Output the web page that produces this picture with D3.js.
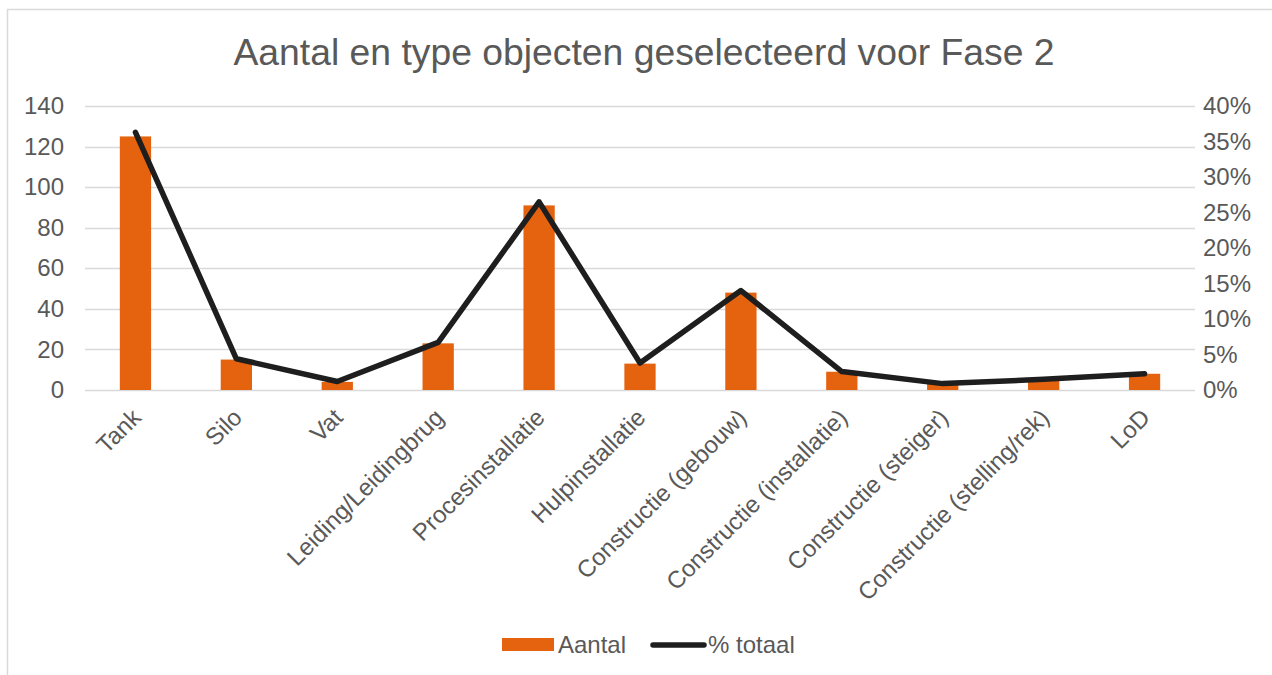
<!DOCTYPE html>
<html>
<head>
<meta charset="utf-8">
<script src="https://cdn.jsdelivr.net/npm/d3@7"></script>
<style>
  body { margin: 0; background: #fff; }
  svg { font-family: "Liberation Sans", Arial, sans-serif; }
</style>
</head>
<body>
<svg id="chart" width="1272" height="675"></svg>
<script>
const categories = ["Tank", "Silo", "Vat", "Leiding/Leidingbrug", "Procesinstallatie", "Hulpinstallatie",
  "Constructie (gebouw)", "Constructie (installatie)", "Constructie (steiger)", "Constructie (stelling/rek)", "LoD"];
const aantal = [125, 15, 4, 23, 91, 13, 48, 9, 3, 5, 8];
const pctTotaal = [36.3, 4.4, 1.2, 6.7, 26.5, 3.8, 14.0, 2.6, 0.9, 1.5, 2.3];
const leftTicks = [0, 20, 40, 60, 80, 100, 120, 140];
const rightTicks = [0, 5, 10, 15, 20, 25, 30, 35, 40];

const textColor = "#595959";
const barColor = "#e5620f";
const lineColor = "#1e1e1e";

const svg = d3.select("#chart");
const plot = { left: 85, right: 1195, top: 106, bottom: 390 };

// frame
svg.append("rect")
  .attr("x", 7.5).attr("y", 9.5)
  .attr("width", 1300).attr("height", 700)
  .attr("fill", "none").attr("stroke", "#d9d9d9").attr("stroke-width", 1.5);

svg.append("text")
  .attr("x", 644).attr("y", 65)
  .attr("text-anchor", "middle")
  .attr("fill", textColor)
  .style("font-size", "37.3px")
  .text("Aantal en type objecten geselecteerd voor Fase 2");

const x = d3.scaleBand().domain(categories).range([plot.left, plot.right]).paddingInner(0.69).paddingOuter(0.345);
const xc = d3.scaleBand().domain(categories).range([plot.left, plot.right]);
const y = d3.scaleLinear().domain([0, 140]).range([plot.bottom, plot.top]);
const y2 = d3.scaleLinear().domain([0, 40]).range([plot.bottom, plot.top]);

// gridlines
svg.append("g").selectAll("line").data(leftTicks).join("line")
  .attr("x1", plot.left).attr("x2", plot.right)
  .attr("y1", d => Math.round(y(d)) + 0.5).attr("y2", d => Math.round(y(d)) + 0.5)
  .attr("stroke", "#d9d9d9").attr("stroke-width", 1.5);

// left axis
const yAxis = svg.append("g")
  .attr("transform", `translate(${plot.left - 21},0)`)
  .call(d3.axisLeft(y).tickValues(leftTicks).tickSize(0).tickPadding(0));
yAxis.select(".domain").remove();
yAxis.selectAll("text").attr("fill", textColor).style("font-size", "24px");

// right axis
const y2Axis = svg.append("g")
  .attr("transform", `translate(${plot.right + 8},0)`)
  .call(d3.axisRight(y2).tickValues(rightTicks).tickFormat(d => d + "%").tickSize(0).tickPadding(0));
y2Axis.select(".domain").remove();
y2Axis.selectAll("text").attr("fill", textColor).style("font-size", "24px");

// bars
svg.append("g").selectAll("rect").data(aantal).join("rect")
  .attr("x", (d, i) => x(categories[i]))
  .attr("width", x.bandwidth())
  .attr("y", d => y(d))
  .attr("height", d => y(0) - y(d))
  .attr("fill", barColor);

// line
const line = d3.line()
  .x((d, i) => xc(categories[i]) + xc.bandwidth() / 2)
  .y(d => y2(d));
svg.append("path")
  .datum(pctTotaal)
  .attr("d", line)
  .attr("fill", "none")
  .attr("stroke", lineColor)
  .attr("stroke-width", 5.5)
  .attr("stroke-linejoin", "round")
  .attr("stroke-linecap", "round");

// category labels
svg.append("g").selectAll("text").data(categories).join("text")
  .attr("transform", d => `translate(${xc(d) + xc.bandwidth() / 2 + 7},${plot.bottom + 29}) rotate(-45)`)
  .attr("text-anchor", "end")
  .attr("fill", textColor)
  .style("font-size", "24px")
  .text(d => d);

// legend
const legend = svg.append("g");
legend.append("rect").attr("x", 502).attr("y", 638).attr("width", 52).attr("height", 13).attr("fill", barColor);
legend.append("text").attr("x", 558).attr("y", 653).attr("fill", textColor).style("font-size", "24px").text("Aantal");
legend.append("line").attr("x1", 653).attr("x2", 704).attr("y1", 645).attr("y2", 645)
  .attr("stroke", lineColor).attr("stroke-width", 5.5).attr("stroke-linecap", "round");
legend.append("text").attr("x", 708).attr("y", 653).attr("fill", textColor).style("font-size", "24px").text("% totaal");
</script>
</body>
</html>
